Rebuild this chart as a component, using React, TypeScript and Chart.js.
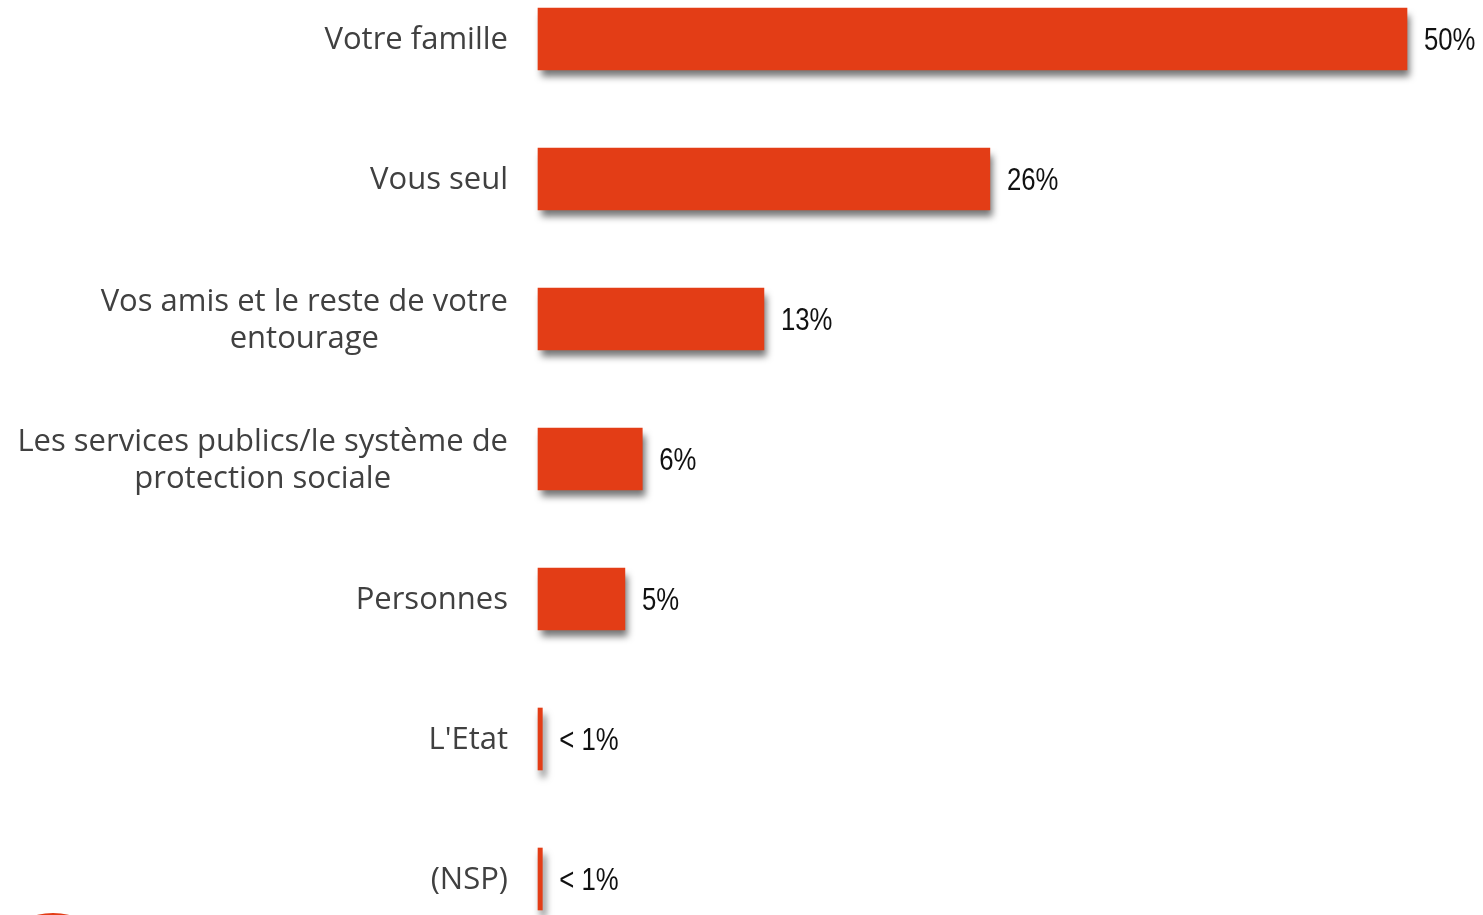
import React, { useEffect, useRef } from "react";
import { Chart, registerables } from "chart.js";

Chart.register(...registerables);

const categories: string[][] = [
  ["Votre famille"],
  ["Vous seul"],
  ["Vos amis et le reste de votre", "entourage"],
  ["Les services publics/le système de", "protection sociale"],
  ["Personnes"],
  ["L'Etat"],
  ["(NSP)"],
];
const values = [50, 26, 13, 6, 5, 0.25, 0.25];
const valueLabels = ["50%", "26%", "13%", "6%", "5%", "< 1%", "< 1%"];

const BAR_COLOR = "#E33D16";

const shadowPlugin = {
  id: "barShadow",
  beforeDatasetsDraw(chart: any) {
    const ctx = chart.ctx;
    ctx.save();
    ctx.shadowColor = "rgba(0,0,0,0.55)";
    ctx.shadowBlur = 7;
    ctx.shadowOffsetX = 3;
    ctx.shadowOffsetY = 7;
  },
  afterDatasetsDraw(chart: any) {
    chart.ctx.restore();
  },
};

const labelPlugin = {
  id: "labels",
  afterDatasetsDraw(chart: any) {
    const ctx = chart.ctx;
    const meta = chart.getDatasetMeta(0);
    // value labels
    ctx.save();
    ctx.font = '31px "Liberation Sans", sans-serif';
    ctx.fillStyle = "#111111";
    ctx.textAlign = "left";
    ctx.textBaseline = "middle";
    meta.data.forEach((bar: any, i: number) => {
      ctx.save();
      ctx.translate(bar.x + 17, bar.y + 2);
      ctx.scale(0.83, 1);
      ctx.fillText(valueLabels[i], 0, 0);
      ctx.restore();
    });
    ctx.restore();
    // category labels
    ctx.save();
    ctx.font = '31px "Open Sans", sans-serif';
    ctx.fillStyle = "#404040";
    ctx.textAlign = "center";
    ctx.textBaseline = "middle";
    const rightEdge = chart.chartArea.left - 30;
    const lineH = 37;
    meta.data.forEach((bar: any, i: number) => {
      const lines = categories[i];
      const w = Math.max(...lines.map((l) => ctx.measureText(l).width));
      const cx = rightEdge - w / 2;
      const y0 = bar.y + 1.5 - ((lines.length - 1) * lineH) / 2;
      lines.forEach((l, k) => ctx.fillText(l, cx, y0 + k * lineH));
    });
    ctx.restore();
  },
};

const cornerPlugin = {
  id: "corner",
  afterDraw(chart: any) {
    const ctx = chart.ctx;
    ctx.save();
    ctx.fillStyle = BAR_COLOR;
    ctx.beginPath();
    ctx.ellipse(53, 935, 40, 22, 0, 0, Math.PI * 2);
    ctx.fill();
    ctx.restore();
  },
};

export default function App() {
  const ref = useRef<HTMLCanvasElement>(null);
  useEffect(() => {
    document.body.style.margin = "0";
    const chart = new Chart(ref.current!, {
      type: "bar",
      data: {
        labels: categories.map((c) => c.join(" ")),
        datasets: [
          {
            data: values,
            backgroundColor: BAR_COLOR,
            barThickness: 62,
            borderWidth: 0,
            clip: false as any,
          },
        ],
      },
      options: {
        indexAxis: "y",
        animation: false,
        responsive: false,
        maintainAspectRatio: false,
        layout: { padding: { top: 39, bottom: 36, left: 538, right: 76 } },
        plugins: { legend: { display: false }, tooltip: { enabled: false } },
        scales: {
          x: { display: false, min: 0, max: 50 },
          y: { display: false, offset: false },
        },
      },
      plugins: [shadowPlugin, labelPlugin, cornerPlugin],
    });
    return () => chart.destroy();
  }, []);
  return (
    <div style={{ position: "absolute", left: 0, top: 0 }}>
      <canvas ref={ref} width={1483} height={915} style={{ display: "block" }} />
    </div>
  );
}
